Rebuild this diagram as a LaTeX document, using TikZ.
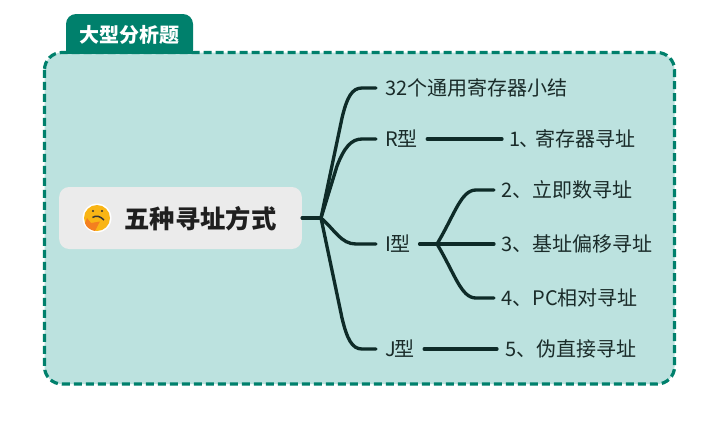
\documentclass[tikz,border=0pt]{standalone}
\usepackage{fontspec}
\setmainfont{Noto Sans CJK SC}
\definecolor{framec}{HTML}{00806C}
\definecolor{fillc}{HTML}{BCE2DF}
\definecolor{boxc}{HTML}{EBEBEB}
\definecolor{linec}{HTML}{0E2B28}
\definecolor{textc}{HTML}{1A2B29}
\definecolor{emojiy}{HTML}{F9B515}
\definecolor{emojih}{HTML}{F4801F}
\tikzset{
  leaf/.style={anchor=west,text=textc,font=\fontsize{15}{18}\selectfont,inner ysep=0pt,text height=13pt,text depth=2pt},
  link/.style={draw=linec,line width=2.5pt,line cap=round},
}
\begin{document}
\begin{tikzpicture}[x=0.75pt,y=-0.75pt]
\useasboundingbox[fill=white] (0,0) rectangle (716,440);
% frame
\fill[framec,rounded corners=7.5pt] (66,60) -- (66,14) -- (193,14) -- (193,60) -- cycle;
\fill[white] (60,53) rectangle (200,62);
\node (tab) at (129.5,35) [text=white,font=\fontsize{15}{18}\bfseries\selectfont,inner sep=0pt] {大型分析题};
\draw[draw=framec,fill=fillc,line width=2.4pt,dash pattern=on 6pt off 3pt,rounded corners=13pt] (44.5,52.5) rectangle (674.5,384);
\fill[framec] (66,51) rectangle (193,54);
% root
\node (root) at (180.5,218) [fill=boxc,rounded corners=7.5pt,minimum width=182pt,minimum height=46.5pt,inner sep=0pt] {};
\node (title) at (200.5,219) [text=black!88,font=\fontsize{19}{22}\bfseries\selectfont,inner sep=0pt] {五种寻址方式};
% emoji
\fill[white] (97,218) circle[radius=14.5];
\fill[emojiy] (97,218) circle[radius=13];
\fill[black!80] (93,211) circle[radius=1.2] (102,211) circle[radius=1.2];
\draw[black!80,line width=1.1pt] (92.5,217.5) .. controls (96,215) and (100,216) .. (104,220);
\fill[emojih] (87,218) -- (91,223) -- (100,221.5) -- (98,225) -- (95,231) .. controls (90,230) and (86,227) .. (85,223) -- cycle;
% level 1
\coordinate (j1) at (321,218);
\node[leaf,inner xsep=9pt*0.75] (a) at (376,88) {32个通用寄存器小结};
\node[leaf,inner xsep=9pt*0.75] (r) at (376,139) {R型};
\node[leaf,inner xsep=9pt*0.75] (i) at (376,244) {I\hspace{-0.6pt}型};
\node[leaf,inner xsep=9pt*0.75] (k) at (376,349) {J\hspace{-0.8pt}型};
% level 2
\node[leaf,inner xsep=7pt*0.75] (r1) at (502,139) {1\hspace{-0.5pt}、\hspace{-3.2pt}寄存器寻址};
\node[leaf,inner xsep=7pt*0.75] (i2) at (494,190) {2、立即数寻址};
\node[leaf,inner xsep=7pt*0.75] (i3) at (494,244) {3、基址偏移寻址};
\node[leaf,inner xsep=7pt*0.75] (i4) at (494,298) {4、PC相对寻址};
\node[leaf,inner xsep=8pt*0.75] (k5) at (497,349) {5、伪直接寻址};
\coordinate (j2) at (437,244);
% connectors
\draw[link] (root.east) -- (j1);
\draw[link] (j1) -- (342,118) .. controls (347,97) and (352,88) .. (362,88) -- (a.west);
\draw[link] (j1) -- (337,166) .. controls (344,148) and (351,139) .. (362,139) -- (r.west);
\draw[link] (j1) .. controls (335,230) and (341,244) .. (356,244) -- (i.west);
\draw[link] (j1) -- (342,318) .. controls (347,339) and (352,349) .. (362,349) -- (k.west);
\draw[link] (r.east) -- (r1.west);
\draw[link] (i.east) -- (j2) -- (i3.west);
\draw[link] (j2) .. controls (455,214) and (461,190) .. (476,190) -- (i2.west);
\draw[link] (j2) .. controls (455,274) and (461,298) .. (476,298) -- (i4.west);
\draw[link] (k.east) -- (k5.west);
\end{tikzpicture}
\end{document}
